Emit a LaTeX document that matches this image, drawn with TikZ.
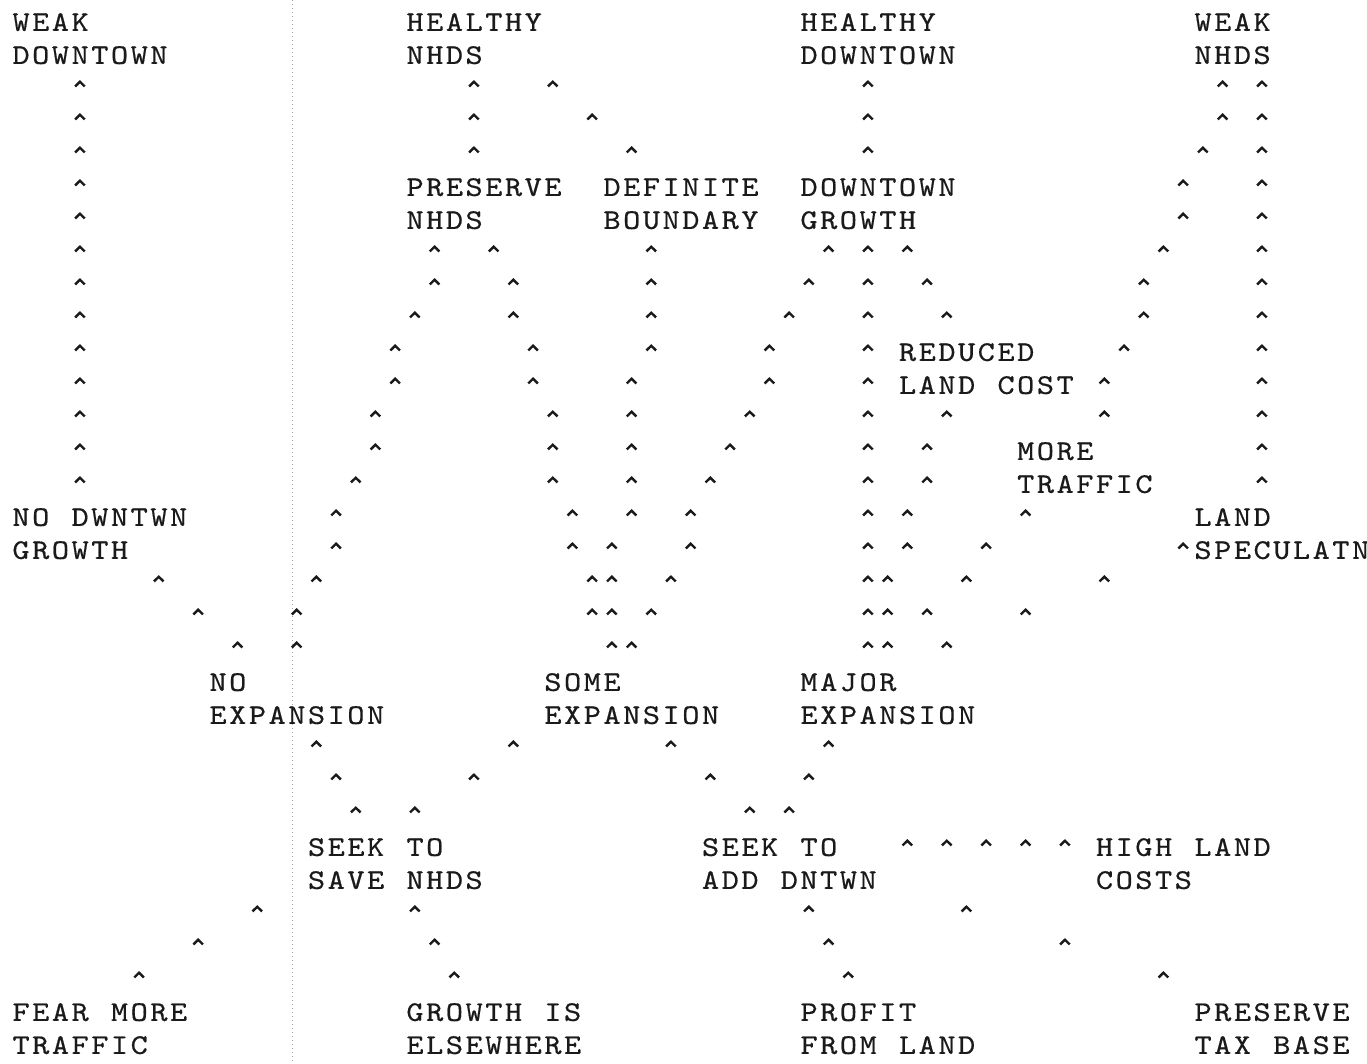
\documentclass[tikz,border=0pt]{standalone}
\usepackage{fontspec}
\newfontfamily\typewriter[Extension=.otf,FakeBold=0.5,FakeStretch=1.15]{lmmono10-regular}
\definecolor{ink}{HTML}{1A1A1A}
\makeatletter
% typewriter: every character in a fixed-pitch cell (use ~ for a space)
\def\typed#1{\typed@i#1\@nil}
\def\typed@i#1{\ifx#1\@nil\else\makebox[19.7pt][c]{#1}\expandafter\typed@i\fi}
\makeatother
\newcommand\lblpair[2]{\begin{tabular}[t]{@{}l@{}}\typed{#1}\\\typed{#2}\end{tabular}}
\newcommand\caretrun[1]{\foreach \c/\r in {#1} \pic at ({\c+0.5},{\r-0.12}) {caret};}
\begin{document}
\begin{tikzpicture}[x=19.7pt,y=-33pt,
  lbl/.style={anchor=base west,inner sep=0pt,text=ink,font=\fontsize{28.5}{33}\selectfont\typewriter},
  caret/.pic={\draw[ink,line width=2.4pt,line join=miter,line cap=butt]
     (-4.8pt,-2.4pt) -- (0pt,2.3pt) -- (4.8pt,-2.4pt);}
]
\path[use as bounding box] (-0.5584,-0.6667) rectangle (68.833,31.576);

% faint fold line of the scan
\coordinate (foldtop) at (14.264,-0.6667);
\coordinate (foldbot) at (14.264,31.576);
\draw[black!35,line width=0.7pt,dash pattern=on 0.8pt off 3.2pt] (foldtop) -- (foldbot);

% ---------------- labels ----------------
\node[lbl] (weakdt)     at (0,0.27)  {\lblpair{WEAK}{DOWNTOWN}};
\node[lbl] (healthynh)  at (20,0.27) {\lblpair{HEALTHY}{NHDS}};
\node[lbl] (healthydt)  at (40,0.27) {\lblpair{HEALTHY}{DOWNTOWN}};
\node[lbl] (weaknh)     at (60,0.27) {\lblpair{WEAK}{NHDS}};
\node[lbl] (presnh)     at (20,5.27) {\lblpair{PRESERVE}{NHDS}};
\node[lbl] (defbound)   at (30,5.27) {\lblpair{DEFINITE}{BOUNDARY}};
\node[lbl] (dtgrowth)   at (40,5.27) {\lblpair{DOWNTOWN}{GROWTH}};
\node[lbl] (redland)    at (45,10.27) {\lblpair{REDUCED}{LAND~COST}};
\node[lbl] (moretraf)   at (51,13.27) {\lblpair{MORE}{TRAFFIC}};
\node[lbl] (nodtgrowth) at (0,15.27) {\lblpair{NO~DWNTWN}{GROWTH}};
\node[lbl] (landspec)   at (60,15.27) {\lblpair{LAND}{SPECULATN}};
\node[lbl] (noexp)      at (10,20.27) {\lblpair{NO}{EXPANSION}};
\node[lbl] (someexp)    at (27,20.27) {\lblpair{SOME}{EXPANSION}};
\node[lbl] (majorexp)   at (40,20.27) {\lblpair{MAJOR}{EXPANSION}};
\node[lbl] (savenh)     at (15,25.27) {\lblpair{SEEK~TO}{SAVE~NHDS}};
\node[lbl] (adddt)      at (35,25.27) {\lblpair{SEEK~TO}{ADD~DNTWN}};
\node[lbl] (highland)   at (55,25.27) {\lblpair{HIGH~LAND}{COSTS}};
\node[lbl] (feartraf)   at (0,30.27) {\lblpair{FEAR~MORE}{TRAFFIC}};
\node[lbl] (elsewhere)  at (20,30.27) {\lblpair{GROWTH~IS}{ELSEWHERE}};
\node[lbl] (profit)     at (40,30.27) {\lblpair{PROFIT}{FROM~LAND}};
\node[lbl] (taxbase)    at (60,30.27) {\lblpair{PRESERVE}{TAX~BASE}};

% ---------------- caret connectors ----------------
% no downtown growth -> weak downtown
\caretrun{3/2,3/3,3/4,3/5,3/6,3/7,3/8,3/9,3/10,3/11,3/12,3/13,3/14}
% no expansion -> no downtown growth
\caretrun{7/17,9/18,11/19}
% no expansion -> preserve nhds
\caretrun{14/19,14/18,15/17,16/16,16/15,17/14,18/13,18/12,19/11,19/10,20/9,21/8,21/7}
% some expansion -> preserve nhds
\caretrun{24/7,25/8,25/9,26/10,26/11,27/12,27/13,27/14,28/15,28/16,29/17,29/18,30/19}
% some expansion -> definite boundary
\caretrun{32/7,32/8,32/9,32/10,31/11,31/12,31/13,31/14,31/15,30/16,30/17,30/18,31/19}
% some expansion -> downtown growth
\caretrun{41/7,40/8,39/9,38/10,38/11,37/12,36/13,35/14,34/15,34/16,33/17,32/18}
% preserve nhds -> healthy nhds
\caretrun{23/2,23/3,23/4}
% definite boundary -> healthy nhds
\caretrun{27/2,29/3,31/4}
% downtown growth -> healthy downtown
\caretrun{43/2,43/3,43/4}
% more traffic -> weak nhds
\caretrun{61/2,61/3,60/4,59/5,59/6,58/7,57/8,57/9,56/10,55/11,55/12}
% land speculation -> weak nhds
\caretrun{63/2,63/3,63/4,63/5,63/6,63/7,63/8,63/9,63/10,63/11,63/12,63/13,63/14}
% major expansion -> downtown growth
\caretrun{43/7,43/8,43/9,43/10,43/11,43/12,43/13,43/14,43/15,43/16,43/17,43/18,43/19}
% reduced land cost -> downtown growth
\caretrun{45/7,46/8,47/9}
% major expansion -> reduced land cost
\caretrun{47/12,46/13,46/14,45/15,45/16,44/17,44/18,44/19}
% major expansion -> more traffic
\caretrun{51/15,49/16,48/17,46/18}
% major expansion -> land speculation
\caretrun{59/16,55/17,51/18,47/19}
% seek to save nhds -> no expansion / some expansion
\caretrun{15/22,16/23,17/24}
\caretrun{25/22,23/23,20/24}
% seek to add downtown -> some expansion / major expansion
\caretrun{33/22,35/23,37/24}
\caretrun{41/22,40/23,39/24}
% high land costs -> seek to add downtown
\caretrun{45/25,47/25,49/25,51/25,53/25}
% bottom motives
\caretrun{6/29,9/28,12/27}
\caretrun{22/29,21/28,20/27}
\caretrun{42/29,41/28,40/27}
\caretrun{58/29,53/28,48/27}
\end{tikzpicture}
\end{document}
